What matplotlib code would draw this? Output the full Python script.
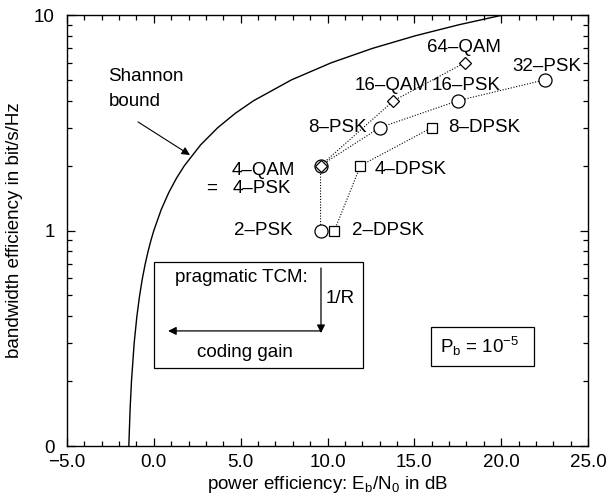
import matplotlib
matplotlib.use("Agg")
import matplotlib.pyplot as plt
from matplotlib.ticker import FixedLocator, FixedFormatter, LogLocator, NullFormatter, MultipleLocator

plt.rcParams['font.family'] = ['Liberation Sans', 'DejaVu Sans']
plt.rcParams['mathtext.fontset'] = 'custom'
plt.rcParams['mathtext.rm'] = 'Liberation Sans'
plt.rcParams['mathtext.it'] = 'Liberation Sans'
FS = 13.5

# Shannon bound: bandwidth efficiency (bit/s/Hz) vs Eb/N0 (dB)
shannon_eta = [0.1, 0.15, 0.2, 0.3, 0.4, 0.5, 0.6, 0.7, 0.8, 0.9, 1.0, 1.25, 1.5, 1.75,
               2.0, 2.5, 3.0, 3.5, 4.0, 5.0, 6.0, 7.0, 8.0, 9.0, 10.0]
shannon_db = [-1.44, -1.364, -1.287, -1.133, -0.976, -0.817, -0.658, -0.496, -0.332, -0.167, 0.0,
              0.425, 0.860, 1.305, 1.761, 2.701, 3.680, 4.694, 5.740, 7.924, 10.212, 12.587,
              15.034, 17.542, 20.099]

# PSK: 2, 4, 8, 16, 32
psk_db = [9.6, 9.6, 13.0, 17.5, 22.5]
psk_eta = [1, 2, 3, 4, 5]
# QAM: 4, 16, 64
qam_db = [9.6, 13.8, 17.9]
qam_eta = [2, 4, 6]
# DPSK: 2, 4, 8
dpsk_db = [10.4, 11.9, 16.0]
dpsk_eta = [1, 2, 3]

x_ticks = [-5, 0, 5, 10, 15, 20, 25]
x_ticklabels = ['\u22125.0', '0.0', '5.0', '10.0', '15.0', '20.0', '25.0']
y_ticks = [0.1, 1, 10]
y_ticklabels = ['0', '1', '10']

fig = plt.figure(figsize=(6.08, 4.98), dpi=100)
ax = fig.add_axes([67/608, 52/498, 521/608, 431/498])

ax.plot(shannon_db, shannon_eta, color='black', lw=1.0)
ax.plot(psk_db, psk_eta, color='black', ls=(0, (1, 1.5)), lw=0.8, marker='o', ms=9.4,
        mfc='white', mec='black', mew=0.9)
ax.plot(qam_db, qam_eta, color='black', ls=(0, (1, 1.5)), lw=0.8, marker='D', ms=6.2,
        mfc='white', mec='black', mew=0.9)
ax.plot(dpsk_db, dpsk_eta, color='black', ls=(0, (1, 1.5)), lw=0.8, marker='s', ms=7.4,
        mfc='white', mec='black', mew=0.9)

ax.set_yscale('log')
ax.set_xlim(-5, 25)
ax.set_ylim(0.1, 10)
ax.xaxis.set_major_locator(FixedLocator(x_ticks))
ax.xaxis.set_major_formatter(FixedFormatter(x_ticklabels))
ax.xaxis.set_minor_locator(MultipleLocator(1))
ax.yaxis.set_major_locator(FixedLocator(y_ticks))
ax.yaxis.set_major_formatter(FixedFormatter(y_ticklabels))
ax.yaxis.set_minor_locator(LogLocator(base=10, subs=[2, 3, 4, 5, 6, 7, 8, 9]))
ax.yaxis.set_minor_formatter(NullFormatter())
ax.tick_params(which='both', direction='in', top=True, right=True, labelsize=FS, width=0.9)
ax.tick_params(which='major', length=6)
ax.tick_params(which='minor', length=3.5)
ax.tick_params(axis='x', pad=6)
ax.tick_params(axis='y', pad=9)
for s in ax.spines.values():
    s.set_linewidth(1.0)

ax.set_xlabel(r'power efficiency: E$_\mathrm{b}$/N$_\mathrm{0}$ in dB', fontsize=FS, labelpad=2)
ax.set_ylabel('bandwidth efficiency in bit/s/Hz', fontsize=FS, labelpad=8)

def t(x, y, s, ha='left'):
    ax.text(x, y, s, fontsize=FS, ha=ha, va='center')

t(17.86, 7.1, '64\u2013QAM', 'center')
t(22.64, 5.74, '32\u2013PSK', 'center')
t(13.7, 4.73, '16\u2013QAM', 'center')
t(18.0, 4.73, '16\u2013PSK', 'center')
t(12.27, 2.99, '8\u2013PSK', 'right')
t(16.94, 2.99, '8\u2013DPSK')
t(12.73, 1.91, '4\u2013DPSK')
t(11.41, 1.0, '2\u2013DPSK')
t(4.50, 1.90, '4\u2013QAM')
t(4.55, 1.57, '4\u2013PSK')
t(3.35, 1.57, '=', 'center')
t(8.0, 1.0, '2\u2013PSK', 'right')
t(-2.64, 5.16, 'Shannon')
t(-2.58, 3.95, 'bound')

ax.annotate('', xy=(2.08, 2.24), xytext=(-0.91, 3.19),
            arrowprops=dict(arrowstyle='-|>', color='black', lw=0.8, mutation_scale=12,
                            shrinkA=0, shrinkB=0))

# pragmatic TCM box
tr = ax.transAxes
ax.add_patch(plt.Rectangle((0.167, 0.181), 0.568 - 0.167, 0.427 - 0.181, transform=tr,
                           fill=False, ec='black', lw=0.9))
ax.text(0.335, 0.390, 'pragmatic TCM:', transform=tr, fontsize=FS, ha='center', va='center')
ax.text(0.497, 0.343, '1/R', transform=tr, fontsize=FS, ha='left', va='center')
ax.text(0.342, 0.216, 'coding gain', transform=tr, fontsize=FS, ha='center', va='center')
ax.annotate('', xy=(0.4875, 0.262), xytext=(0.4875, 0.413), xycoords=tr, textcoords=tr,
            arrowprops=dict(arrowstyle='-|>', color='black', lw=0.9, mutation_scale=12,
                            shrinkA=0, shrinkB=0))
ax.annotate('', xy=(0.194, 0.267), xytext=(0.4875, 0.267), xycoords=tr, textcoords=tr,
            arrowprops=dict(arrowstyle='-|>', color='black', lw=0.9, mutation_scale=12,
                            shrinkA=0, shrinkB=0))

# Pb box
ax.add_patch(plt.Rectangle((0.699, 0.186), 0.896 - 0.699, 0.276 - 0.186, transform=tr,
                           fill=False, ec='black', lw=0.9))
ax.text(0.716, 0.230, r'P$_\mathrm{b}$ = 10$^{-5}$', transform=tr, fontsize=FS,
        ha='left', va='center')

fig.savefig('out.png', dpi=100)
